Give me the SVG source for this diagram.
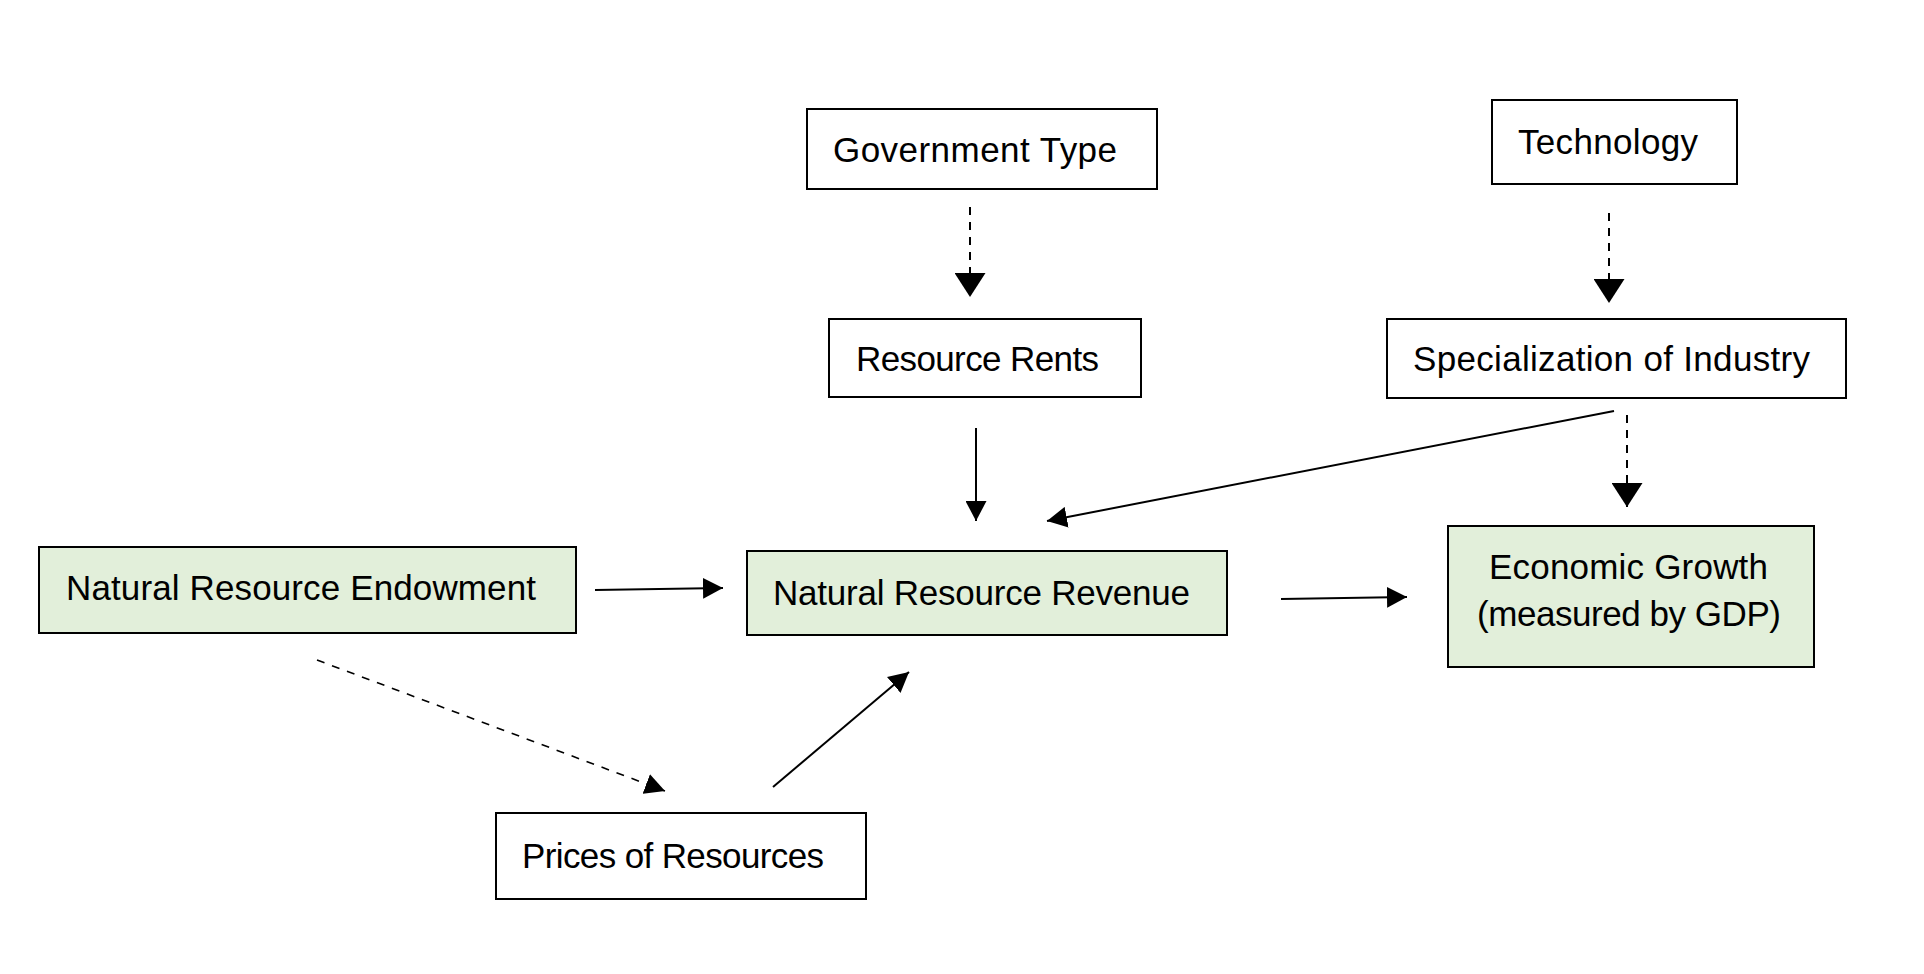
<svg xmlns="http://www.w3.org/2000/svg" width="1924" height="974" viewBox="0 0 1924 974">
<style>
.box{fill:#ffffff;stroke:#000000;stroke-width:2}
.green{fill:#E2EFDA;stroke:#000000;stroke-width:2}
.lbl{font-family:"Liberation Sans",Arial,sans-serif;font-size:35px;fill:#000000}
.solid{fill:none;stroke:#000000;stroke-width:2}
.dash{fill:none;stroke:#000000;stroke-width:2;stroke-dasharray:8 7}
.dashd{fill:none;stroke:#000000;stroke-width:1.6;stroke-dasharray:8 8}
</style>
<defs>
<marker id="head" markerUnits="userSpaceOnUse" markerWidth="21" markerHeight="21" refX="20" refY="10.5" orient="auto">
<path d="M0,0 L20,10.5 L0,21 z" fill="#000000"/>
</marker>
<marker id="bighead" markerUnits="userSpaceOnUse" markerWidth="25" markerHeight="31" refX="24" refY="15.5" orient="auto">
<path d="M0,0 L24,15.5 L0,31 z" fill="#000000"/>
</marker>
</defs>
<rect width="1924" height="974" fill="#ffffff"/>
<g id="connectors">
<line class="dash" x1="970" y1="207" x2="970" y2="297" marker-end="url(#bighead)"/>
<line class="dash" x1="1609" y1="213" x2="1609" y2="303" marker-end="url(#bighead)"/>
<line class="dash" x1="1627" y1="415" x2="1627" y2="507" marker-end="url(#bighead)"/>
<line class="solid" x1="976" y1="428" x2="976" y2="521" marker-end="url(#head)"/>
<line class="solid" x1="1614" y1="411" x2="1047" y2="521" marker-end="url(#head)"/>
<line class="solid" x1="595" y1="590" x2="723" y2="588" marker-end="url(#head)"/>
<line class="solid" x1="1281" y1="599" x2="1407" y2="597" marker-end="url(#head)"/>
<line class="dashd" x1="317" y1="660" x2="665" y2="791" marker-end="url(#head)"/>
<line class="solid" x1="773" y1="787" x2="909" y2="672" marker-end="url(#head)"/>
</g>
<g id="government-type">
<rect class="box" x="807" y="109" width="350" height="80"/>
<text class="lbl" x="833" y="162" textLength="284">Government Type</text>
</g>
<g id="technology">
<rect class="box" x="1492" y="100" width="245" height="84"/>
<text class="lbl" x="1518" y="154" textLength="180">Technology</text>
</g>
<g id="resource-rents">
<rect class="box" x="829" y="319" width="312" height="78"/>
<text class="lbl" x="856" y="371" textLength="243">Resource Rents</text>
</g>
<g id="specialization">
<rect class="box" x="1387" y="319" width="459" height="79"/>
<text class="lbl" x="1413" y="371" textLength="397">Specialization of Industry</text>
</g>
<g id="endowment">
<rect class="green" x="39" y="547" width="537" height="86"/>
<text class="lbl" x="66" y="600" textLength="470">Natural Resource Endowment</text>
</g>
<g id="revenue">
<rect class="green" x="747" y="551" width="480" height="84"/>
<text class="lbl" x="773" y="605" textLength="417">Natural Resource Revenue</text>
</g>
<g id="economic-growth">
<rect class="green" x="1448" y="526" width="366" height="141"/>
<text class="lbl" x="1489" y="579" textLength="279">Economic Growth</text>
<text class="lbl" x="1477" y="626" textLength="304">(measured by GDP)</text>
</g>
<g id="prices">
<rect class="box" x="496" y="813" width="370" height="86"/>
<text class="lbl" x="522" y="868" textLength="302">Prices of Resources</text>
</g>
</svg>
